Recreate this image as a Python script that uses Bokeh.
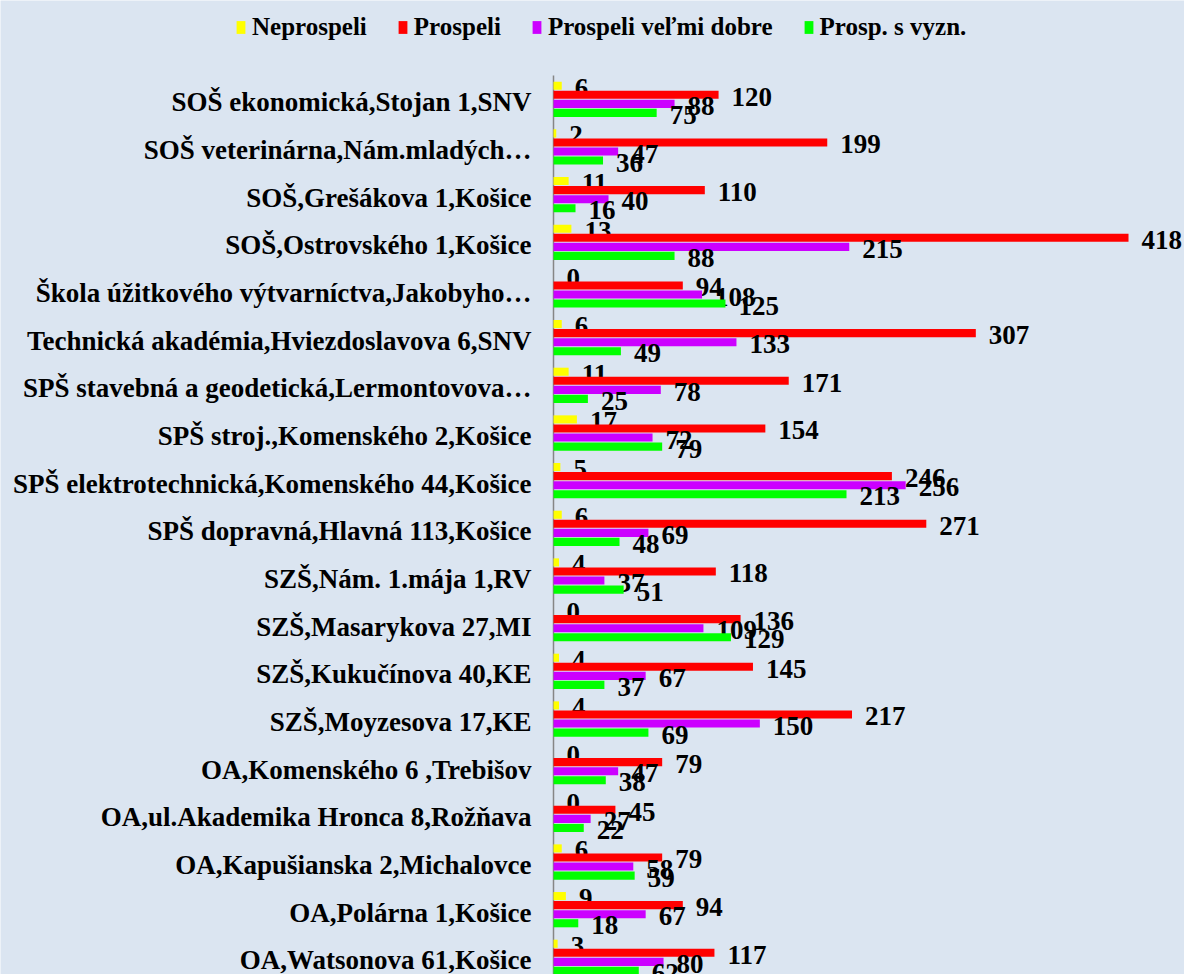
from bokeh.plotting import figure
from bokeh.models import ColumnDataSource, Range1d, Legend, LegendItem
from bokeh.transform import dodge
from bokeh.core.properties import value
from bokeh.embed import file_html
from bokeh.resources import INLINE

schools = [
    "SOŠ ekonomická,Stojan 1,SNV",
    "SOŠ veterinárna,Nám.mladých…",
    "SOŠ,Grešákova 1,Košice",
    "SOŠ,Ostrovského 1,Košice",
    "Škola úžitkového výtvarníctva,Jakobyho…",
    "Technická akadémia,Hviezdoslavova 6,SNV",
    "SPŠ stavebná a geodetická,Lermontovova…",
    "SPŠ stroj.,Komenského 2,Košice",
    "SPŠ elektrotechnická,Komenského 44,Košice",
    "SPŠ dopravná,Hlavná 113,Košice",
    "SZŠ,Nám. 1.mája 1,RV",
    "SZŠ,Masarykova 27,MI",
    "SZŠ,Kukučínova 40,KE",
    "SZŠ,Moyzesova 17,KE",
    "OA,Komenského 6 ,Trebišov",
    "OA,ul.Akademika Hronca 8,Rožňava",
    "OA,Kapušianska 2,Michalovce",
    "OA,Polárna 1,Košice",
    "OA,Watsonova 61,Košice",
]
neprospeli = [6, 2, 11, 13, 0, 6, 11, 17, 5, 6, 4, 0, 4, 4, 0, 0, 6, 9, 3]
prospeli = [120, 199, 110, 418, 94, 307, 171, 154, 246, 271, 118, 136, 145, 217, 79, 45, 79, 94, 117]
velmi_dobre = [88, 47, 40, 215, 108, 133, 78, 72, 256, 69, 37, 109, 67, 150, 47, 27, 58, 67, 80]
s_vyzn = [75, 36, 16, 88, 125, 49, 25, 79, 213, 48, 51, 129, 37, 69, 38, 22, 59, 18, 62]

series = [
    ("Neprospeli", neprospeli, "#ffff00", -0.285),
    ("Prospeli", prospeli, "#ff0000", -0.095),
    ("Prospeli veľmi dobre", velmi_dobre, "#cc00ff", 0.095),
    ("Prosp. s vyzn.", s_vyzn, "#00ff00", 0.285),
]

BG = "#dbe5f1"
FONT = "Liberation Serif"

idx = list(range(len(schools)))

# frame spans the whole canvas; value axis zero sits at 553 px
p = figure(width=1184, height=974, output_backend="svg", toolbar_location=None,
           x_range=Range1d(-402.0, 458.7), y_range=Range1d(18.36, -2.073),
           min_border=0)
p.background_fill_color = BG
p.border_fill_color = BG
p.outline_line_color = None
p.grid.visible = False
p.axis.visible = False

# category axis: labels + baseline
cat_src = ColumnDataSource(dict(idx=idx, name=schools, zero=[0] * len(idx)))
p.text(x="zero", y="idx", text="name", source=cat_src, x_offset=-22, y_offset=3,
       text_align="right", text_baseline="middle", text_font=value(FONT),
       text_font_style="bold", text_font_size="27px", text_color="black")
p.segment(x0=[0], y0=[-0.5], x1=[0], y1=[18.36], line_color="#868686", line_width=1.5)

items = []
for name, vals, color, off in series:
    src = ColumnDataSource(dict(idx=idx, v=vals, t=[str(x) for x in vals]))
    r = p.hbar(y=dodge("idx", off), right="v", left=0, height=0.17, source=src,
               fill_color=color, line_color=None)
    p.text(x="v", y=dodge("idx", off), text="t", source=src, x_offset=13, y_offset=2,
           text_align="left", text_baseline="middle", text_font=value(FONT),
           text_font_style="bold", text_font_size="27px", text_color="black")
    items.append(LegendItem(label=name, renderers=[r]))

legend = Legend(items=items, orientation="horizontal", location=(235, 933),
                label_text_font=FONT, label_text_font_style="bold",
                label_text_font_size="25px", label_text_color="black",
                glyph_width=11, glyph_height=16,
                label_standoff=6, spacing=30, padding=0, margin=0,
                background_fill_alpha=0, border_line_color=None)
p.add_layout(legend, "center")

open("out.html", "w").write(file_html(p, INLINE))
